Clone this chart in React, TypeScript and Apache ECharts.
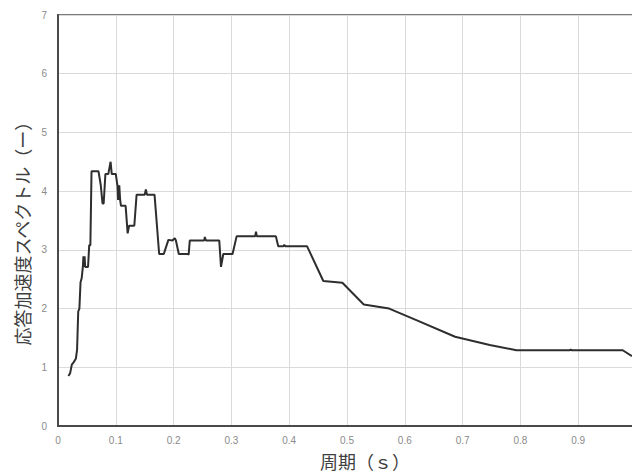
import React, { useEffect, useRef } from "react";
import * as echarts from "echarts";

const periods = [0.018,0.021,0.024,0.026,0.028,0.031,0.033,0.035,0.037,0.039,0.041,0.043,0.044,0.045,0.046,0.047,0.052,0.054,0.056,0.058,0.070,0.074,0.077,0.079,0.082,0.087,0.091,0.093,0.100,0.103,0.104,0.106,0.1075,0.109,0.117,0.1205,0.123,0.132,0.136,0.150,0.152,0.154,0.167,0.175,0.183,0.191,0.198,0.202,0.204,0.209,0.224,0.226,0.228,0.253,0.254,0.256,0.279,0.282,0.286,0.302,0.309,0.341,0.3426,0.344,0.377,0.381,0.390,0.3915,0.393,0.431,0.459,0.492,0.529,0.573,0.621,0.687,0.747,0.793,0.885,0.887,0.889,0.977,0.993];
const spectrum = [0.85,0.9,1.05,1.07,1.1,1.15,1.3,1.95,2.0,2.45,2.52,2.71,2.89,2.71,2.89,2.71,2.71,3.08,3.08,4.34,4.34,4.1,3.79,3.79,4.29,4.29,4.5,4.29,4.29,4.08,3.85,4.1,3.85,3.75,3.75,3.28,3.41,3.41,3.94,3.94,4.03,3.94,3.94,2.93,2.93,3.17,3.16,3.2,3.16,2.93,2.93,2.92,3.16,3.16,3.22,3.16,3.16,2.71,2.93,2.93,3.23,3.23,3.31,3.23,3.23,3.06,3.06,3.09,3.06,3.06,2.47,2.44,2.07,2.0,1.8,1.52,1.38,1.29,1.29,1.3,1.29,1.29,1.19];

const xName = "周期（ｓ）";
const yName = "応答加速度スペクトル（ー）";

export default function App() {
  const ref = useRef<HTMLDivElement>(null);
  useEffect(() => {
    if (!ref.current) return;
    const chart = echarts.init(ref.current, null, { renderer: "svg" });
    const nameFont = "normal 18px 'Noto Sans CJK JP'";
    chart.setOption({
      animation: false,
      backgroundColor: "#ffffff",
      grid: {
        left: 58,
        right: -4,
        top: 15,
        bottom: 48,
        show: true,
        borderColor: "#7a7a7a",
        borderWidth: 2,
        outerBoundsMode: "none",
        containLabel: false,
      },
      graphic: [
        {
          type: "text",
          x: 365,
          y: 461,
          style: {
            text: xName,
            font: nameFont,
            fill: "#404040",
            textAlign: "center",
            textVerticalAlign: "middle",
          },
        },
        {
          type: "text",
          x: 22,
          y: 229,
          rotation: Math.PI / 2,
          style: {
            text: yName,
            font: nameFont,
            fill: "#404040",
            textAlign: "center",
            textVerticalAlign: "middle",
          },
        },
      ],
      xAxis: {
        type: "value",
        min: 0,
        max: 1,
        interval: 0.1,
        axisLine: { show: true, lineStyle: { color: "#4a4a4a", width: 2 } },
        axisTick: { show: false },
        axisLabel: {
          margin: 9,
          fontSize: 10,
          color: "#8a8a8a",
          fontFamily: "Liberation Sans",
          showMaxLabel: false,
        },
        splitLine: { show: true, lineStyle: { color: "#dadada", width: 1 } },
      },
      yAxis: {
        type: "value",
        min: 0,
        max: 7,
        interval: 1,
        axisLine: { show: true, lineStyle: { color: "#4a4a4a", width: 2 } },
        axisTick: { show: false },
        axisLabel: { margin: 11, fontSize: 10, color: "#8a8a8a", fontFamily: "Liberation Sans" },
        splitLine: { show: true, lineStyle: { color: "#dadada", width: 1 } },
      },
      series: [
        {
          type: "line",
          data: periods.map((p, i) => [p, spectrum[i]]),
          showSymbol: false,
          symbol: "none",
          lineStyle: { color: "#2e2e2e", width: 2 },
          itemStyle: { color: "#2e2e2e" },
        },
      ],
    });
    return () => chart.dispose();
  }, []);
  return (
    <div
      ref={ref}
      style={{ position: "fixed", left: 0, top: 0, width: 632, height: 474 }}
    />
  );
}
